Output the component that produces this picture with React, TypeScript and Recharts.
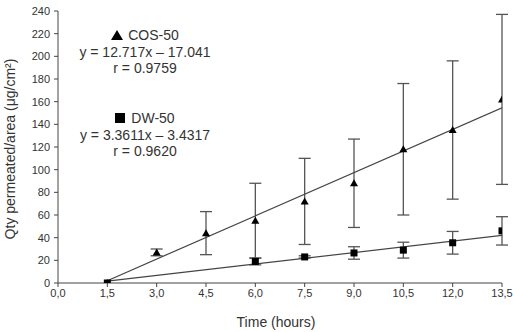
import React from "react";
import {
  ComposedChart,
  Scatter,
  ErrorBar,
  XAxis,
  YAxis,
  Label,
} from "recharts";

// sampling times (hours) and tick marks
const timeTicks = [0, 1.5, 3, 4.5, 6, 7.5, 9, 10.5, 12, 13.5];
const qtyTicks = [0, 20, 40, 60, 80, 100, 120, 140, 160, 180, 200, 220, 240];

// COS-50: mean permeated amount and SD
const cosTimes = [1.5, 3, 4.5, 6, 7.5, 9, 10.5, 12, 13.5];
const cosMean = [0, 27, 44, 55, 72, 88, 118, 135, 162];
const cosSd = [0, 3, 19, 33, 38, 39, 58, 61, 75];

// DW-50: mean permeated amount and SD
const dwTimes = [1.5, 6, 7.5, 9, 10.5, 12, 13.5];
const dwMean = [0, 19, 23, 26.5, 29, 35.5, 46];
const dwSd = [0, 3, 1, 5.5, 7, 10, 12.5];

// linear fits as reported
const cosFit = { slope: 12.717, intercept: -17.041, r: "0.9759" };
const dwFit = { slope: 3.3611, intercept: -3.4317, r: "0.9620" };
const fitRange = [1.5, 13.5];

const FONT = "'Liberation Sans', Arial, sans-serif";
const TEXT = "#333";

const cosData = cosTimes.map((t, i) => ({ t, q: cosMean[i], sd: cosSd[i] }));
const dwData = dwTimes.map((t, i) => ({ t, q: dwMean[i], sd: dwSd[i] }));
const fitLine = (f: { slope: number; intercept: number }) =>
  fitRange.map((t) => ({ t, q: f.slope * t + f.intercept }));

const Triangle = (p: any) => (
  <path
    d={`M${p.cx},${p.cy - 4} L${p.cx + 4},${p.cy + 3} L${p.cx - 4},${p.cy + 3} Z`}
    fill="#000"
  />
);
const Square = (p: any) => (
  <rect x={p.cx - 3.5} y={p.cy - 3.5} width={7} height={7} fill="#000" />
);
const NoDot = () => <g />;

const fmt = (v: number) => v.toFixed(1).replace(".", ",");

// legend glyphs in the annotation blocks
const TriIcon = () => (
  <svg width={12} height={11} style={{ marginRight: 5, verticalAlign: "-1px" }}>
    <path d="M6,0 L12,10 L0,10 Z" fill="#000" />
  </svg>
);
const SqIcon = () => (
  <svg width={11} height={11} style={{ marginRight: 5, verticalAlign: "-1px" }}>
    <rect x={0} y={0} width={10} height={10} fill="#000" />
  </svg>
);

const noteStyle: React.CSSProperties = {
  position: "absolute",
  left: 45,
  width: 200,
  textAlign: "center",
  fontFamily: FONT,
  fontSize: 14,
  lineHeight: "16.5px",
  color: TEXT,
};

export default function App() {
  return (
    <div style={{ position: "absolute", left: 0, top: 0, width: 513, height: 332, background: "#fff" }}>
      <ComposedChart
        width={513}
        height={332}
        margin={{ top: 11, right: 11, bottom: 0, left: 0 }}
        style={{ fontFamily: FONT }}
      >
        <XAxis
          type="number"
          dataKey="t"
          domain={[0, 13.5]}
          ticks={timeTicks}
          tickFormatter={fmt}
          height={49}
          tickSize={4}
          tickMargin={2}
          stroke="#444"
          tick={{ fill: TEXT, fontSize: 11 }}
          allowDataOverflow
        >
          <Label
            content={({ viewBox }: any) => (
              <text
                x={viewBox.x + viewBox.width / 2 - 4}
                y={viewBox.y + 44}
                textAnchor="middle"
                fill={TEXT}
                fontSize={14}
                fontFamily={FONT}
              >
                Time (hours)
              </text>
            )}
          />
        </XAxis>
        <YAxis
          type="number"
          dataKey="q"
          domain={[0, 240]}
          ticks={qtyTicks}
          width={58}
          tickSize={4}
          tickMargin={4}
          stroke="#444"
          tick={{ fill: TEXT, fontSize: 11 }}
          allowDataOverflow
        >
          <Label
            content={({ viewBox }: any) => {
              const x = viewBox.x + 10;
              const y = viewBox.y + viewBox.height / 2 + 2;
              return (
                <text
                  x={x}
                  y={y}
                  transform={`rotate(-90 ${x} ${y})`}
                  textAnchor="middle"
                  dominantBaseline="central"
                  fill={TEXT}
                  fontSize={14}
                  fontFamily={FONT}
                >
                  Qty permeated/area (μg/cm²)
                </text>
              );
            }}
          />
        </YAxis>

        <Scatter
          data={fitLine(cosFit)}
          dataKey="q"
          line={{ stroke: "#444", strokeWidth: 1.2 }}
          shape={NoDot}
          isAnimationActive={false}
        />
        <Scatter
          data={fitLine(dwFit)}
          dataKey="q"
          line={{ stroke: "#444", strokeWidth: 1.2 }}
          shape={NoDot}
          isAnimationActive={false}
        />

        <Scatter data={cosData} dataKey="q" shape={Triangle} isAnimationActive={false}>
          <ErrorBar dataKey="sd" direction="y" width={6} stroke="#555" strokeWidth={1.3} />
        </Scatter>
        <Scatter data={dwData} dataKey="q" shape={Square} isAnimationActive={false}>
          <ErrorBar dataKey="sd" direction="y" width={6} stroke="#555" strokeWidth={1.3} />
        </Scatter>
      </ComposedChart>

      <div style={{ ...noteStyle, top: 27 }}>
        <div>
          <TriIcon />
          COS-50
        </div>
        <div>
          y = {cosFit.slope}x – {Math.abs(cosFit.intercept)}
        </div>
        <div>r = {cosFit.r}</div>
      </div>
      <div style={{ ...noteStyle, top: 110 }}>
        <div>
          <SqIcon />
          DW-50
        </div>
        <div>
          y = {dwFit.slope}x – {Math.abs(dwFit.intercept)}
        </div>
        <div>r = {dwFit.r}</div>
      </div>
    </div>
  );
}
